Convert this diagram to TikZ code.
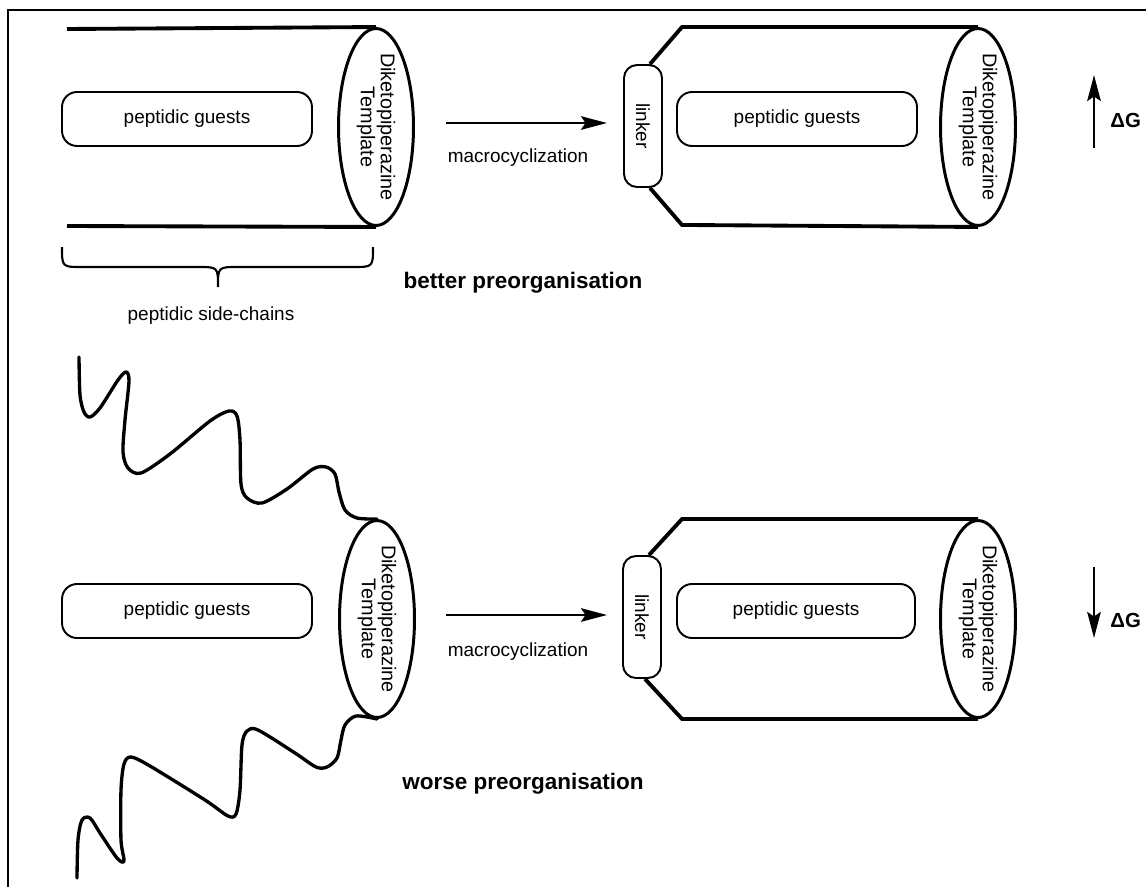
\documentclass[tikz,border=0pt]{standalone}
\usepackage{fontspec}
\setmainfont{Liberation Sans}
\usetikzlibrary{positioning}
\usetikzlibrary{calc}
\usetikzlibrary{arrows.meta, shapes}
\tikzset{
	every node/.style={font=\fontsize{10.8}{12}\selectfont, inner sep=0pt},
	guest/.style={draw, rounded corners=0.3cm, line width=1.1pt, minimum width=5cm, minimum height=1.08cm},
	tmpl/.style={ellipse, draw, line width=1.7pt, minimum width=1.5cm, minimum height=3.94cm},
	tmpltext/.style={rotate=-90, align=center, font=\fontsize{11.3}{11.5}\selectfont},
	linkbox/.style={draw, rounded corners=0.26cm, line width=1.1pt, minimum width=0.76cm, minimum height=2.44cm},
	tube/.style={line width=2.2pt, line join=miter},
	chain/.style={line width=1.9pt, line join=round, line cap=round},
	rxn/.style={line width=1.5pt, -{Stealth[length=0.52cm, width=0.27cm, inset=0.09cm]}},
	bold/.style={font=\fontsize{12.8}{14}\selectfont\bfseries},
	dg/.style={font=\fontsize{11.6}{12}\selectfont\bfseries, anchor=west}
}

\begin{document}
\begin{tikzpicture}[x=0.02cm, y=-0.02cm]
	\useasboundingbox (0,0) rectangle (1146,886);
	% frame
	\draw[line width=1.1pt] (8,920) -- (8,10) -- (1180,10);

	% top row: open template
	\node (g1) [guest] at (187,119) {peptidic guests};
	\node (t1) [tmpl] at (376,127) {};
	\node (t1txt) [tmpltext] at (t1) {Diketopiperazine\\Template};
	\coordinate (c1a) at (67,29);
	\coordinate (c1b) at (67,226);
	\draw[tube] (c1a) -- (t1.north);
	\draw[tube] (c1b) -- (t1.south);
	\draw[line width=1.2pt] (62,247) .. controls (62,267) .. (82,267) -- (198,267)
		.. controls (218,267) .. (218,287) .. controls (218,267) .. (238,267)
		-- (353,267) .. controls (373,267) .. (373,247);
	\node (sc) at (211,316) {peptidic side-chains};

	% top row: macrocycle
	\coordinate (r1s) at (446,123);
	\coordinate (r1e) at (607,123);
	\draw[rxn] (r1s) -- (r1e);
	\node (mc1) [anchor=base] at (518,162) {macrocyclization};
	\node (l1) [linkbox] at (643,126) {\rotatebox{-90}{linker}};
	\node (g2) [guest, minimum width=4.8cm] at (797,119) {peptidic guests};
	\node (t2) [tmpl] at (978,127) {};
	\node (t2txt) [tmpltext] at (t2) {Diketopiperazine\\Template};
	\draw[tube] ([xshift=0.14cm]l1.north) -- ++(32,-37) -- (t2.north);
	\draw[tube] ([xshift=0.14cm]l1.south) -- ++(32,37) -- (t2.south);
	\node (bp) [bold, anchor=base] at (523,288) {better preorganisation};
	\coordinate (dg1s) at (1094,148);
	\coordinate (dg1e) at (1094,75);
	\draw[rxn] (dg1s) -- (dg1e);
	\node (dg1) [dg] at (1110,120) {ΔG};

	% bottom row: floppy template
	\node (g3) [guest] at (187,611) {peptidic guests};
	\node (t3) [tmpl] at (377,619) {};
	\node (t3txt) [tmpltext] at (t3) {Diketopiperazine\\Template};
	\draw[chain] plot[smooth] coordinates {(79,357) (80,395) (84,412) (90,417) (100,408)
		(118,380) (126,372) (129,381) (125,420) (123,452) (128,468) (141,473) (170,454)
		(210,421) (229,411) (237,416) (240,440) (241,484) (247,498) (262,503) (287,489)
		(313,469) (326,467) (335,474) (339,492) (345,510) (357,518) (t3.north)};
	\draw[chain] plot[smooth] coordinates {(t3.south) (356,716) (345,725) (341,740)
		(337,758) (327,767) (316,767) (295,753) (258,730) (247,731) (242,745) (240,790)
		(236,814) (228,816) (205,800) (150,766) (131,757) (124,764) (121,790) (121,840)
		(124,861) (117,858) (100,833) (90,818) (82,820) (78,840) (77,878)};

	% bottom row: macrocycle
	\coordinate (r2s) at (446,615);
	\coordinate (r2e) at (607,615);
	\draw[rxn] (r2s) -- (r2e);
	\node (mc2) [anchor=base] at (518,656) {macrocyclization};
	\node (l2) [linkbox] at (642,617) {\rotatebox{-90}{linker}};
	\node (g4) [guest, minimum width=4.76cm] at (796,611) {peptidic guests};
	\node (t4) [tmpl] at (978,619) {};
	\node (t4txt) [tmpltext] at (t4) {Diketopiperazine\\Template};
	\draw[tube] ([xshift=0.14cm]l2.north) -- ++(33,-36) -- (t4.north);
	\draw[tube] ([xshift=0.06cm]l2.south) -- ++(37,40) -- (t4.south);
	\node (wp) [bold, anchor=base] at (523,789) {worse preorganisation};
	\coordinate (dg2s) at (1094,567);
	\coordinate (dg2e) at (1094,638);
	\draw[rxn] (dg2s) -- (dg2e);
	\node (dg2) [dg] at (1110,620) {ΔG};
\end{tikzpicture}
\end{document}
